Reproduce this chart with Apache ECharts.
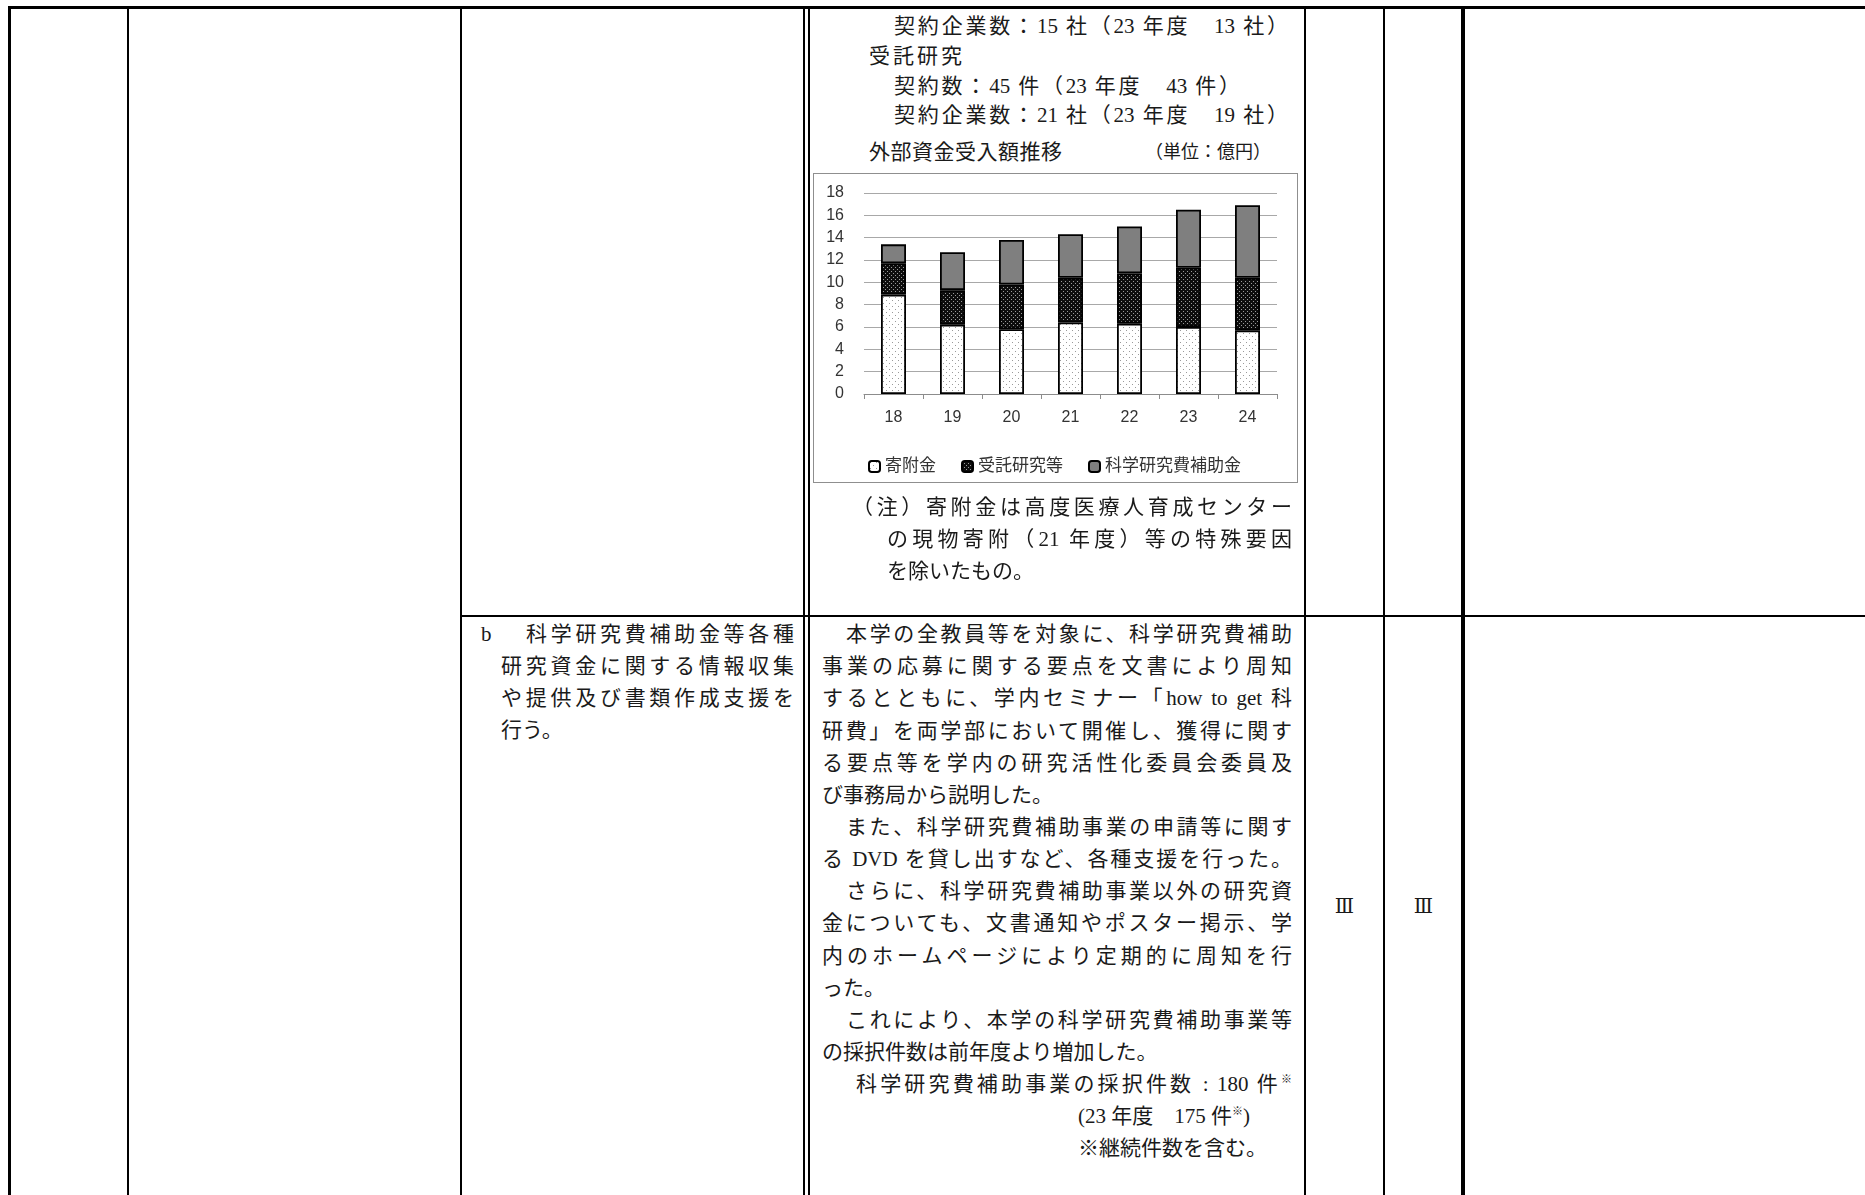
<!DOCTYPE html>
<html><head><meta charset="utf-8">
<script src="https://cdn.jsdelivr.net/npm/echarts@6/dist/echarts.min.js"></script>
<style>
html,body{margin:0;padding:0;background:#fff;}
body{width:1865px;height:1195px;position:relative;overflow:hidden;font-family:"Liberation Serif","Noto Sans CJK JP",serif;color:#1a1a1a;}
.ln{position:absolute;background:#000;}
.t{position:absolute;height:32px;line-height:32px;font-size:21px;white-space:normal;}
.j{text-align:justify;text-align-last:justify;}
sup{font-size:11px;vertical-align:8px;line-height:0;}
.r3{font-family:"DejaVu Serif","Noto Sans CJK JP",serif;font-size:20px;}
#chart{position:absolute;left:813px;top:173px;width:485px;height:310px;}
#chartBorder{position:absolute;left:813px;top:173px;width:483px;height:308px;border:1px solid #8f8f8f;pointer-events:none;}
</style></head>
<body>
<!-- table lines -->
<div class="ln" style="left:8px;top:6px;width:1857px;height:3px;"></div>
<div class="ln" style="left:8px;top:6px;width:3px;height:1189px;"></div>
<div class="ln" style="left:127px;top:6px;width:2px;height:1189px;"></div>
<div class="ln" style="left:460px;top:6px;width:2px;height:1189px;"></div>
<div class="ln" style="left:803px;top:6px;width:2px;height:1189px;"></div>
<div class="ln" style="left:808px;top:6px;width:2px;height:1189px;"></div>
<div class="ln" style="left:1304px;top:6px;width:2px;height:1189px;"></div>
<div class="ln" style="left:1383px;top:6px;width:2px;height:1189px;"></div>
<div class="ln" style="left:1461px;top:6px;width:4px;height:1189px;"></div>
<div class="ln" style="left:460px;top:615px;width:1405px;height:2px;"></div>

<!-- upper cell text -->
<div class="t j" style="left:894px;top:10px;width:394px;">契約企業数：15 社（23 年度　13 社）</div>
<div class="t" style="left:869px;top:40px;letter-spacing:3px;">受託研究</div>
<div class="t j" style="left:894px;top:70px;width:346px;">契約数：45 件（23 年度　43 件）</div>
<div class="t j" style="left:894px;top:99px;width:394px;">契約企業数：21 社（23 年度　19 社）</div>
<div class="t" style="left:869px;top:136px;letter-spacing:0.5px;">外部資金受入額推移</div>
<div class="t" style="left:1145px;top:136px;font-size:18px;">（単位：億円）</div>

<div id="chart"></div>
<div id="chartBorder"></div>

<div class="t j" style="left:852px;top:491px;width:440px;">（注）寄附金は高度医療人育成センター</div>
<div class="t j" style="left:887px;top:523px;width:405px;">の現物寄附（21 年度）等の特殊要因</div>
<div class="t" style="left:887px;top:555px;">を除いたもの。</div>

<!-- column 3 lower -->
<div class="t" style="left:481px;top:618px;">b</div>
<div class="t j" style="left:526px;top:618px;width:268px;">科学研究費補助金等各種</div>
<div class="t j" style="left:501px;top:650px;width:293px;">研究資金に関する情報収集</div>
<div class="t j" style="left:501px;top:682px;width:293px;">や提供及び書類作成支援を</div>
<div class="t" style="left:501px;top:714px;">行う。</div>

<!-- column 4 lower -->
<div class="t j" style="left:846px;top:618px;width:446px;">本学の全教員等を対象に、科学研究費補助</div>
<div class="t j" style="left:822px;top:650px;width:470px;">事業の応募に関する要点を文書により周知</div>
<div class="t j" style="left:822px;top:682px;width:470px;">するとともに、学内セミナー「how to get 科</div>
<div class="t j" style="left:822px;top:715px;width:470px;">研費」を両学部において開催し、獲得に関す</div>
<div class="t j" style="left:822px;top:747px;width:470px;">る要点等を学内の研究活性化委員会委員及</div>
<div class="t" style="left:822px;top:779px;">び事務局から説明した。</div>
<div class="t j" style="left:846px;top:811px;width:446px;">また、科学研究費補助事業の申請等に関す</div>
<div class="t j" style="left:822px;top:843px;width:470px;">る DVD を貸し出すなど、各種支援を行った。</div>
<div class="t j" style="left:846px;top:875px;width:446px;">さらに、科学研究費補助事業以外の研究資</div>
<div class="t j" style="left:822px;top:907px;width:470px;">金についても、文書通知やポスター掲示、学</div>
<div class="t j" style="left:822px;top:940px;width:470px;">内のホームページにより定期的に周知を行</div>
<div class="t" style="left:822px;top:972px;">った。</div>
<div class="t j" style="left:846px;top:1004px;width:446px;">これにより、本学の科学研究費補助事業等</div>
<div class="t" style="left:822px;top:1036px;">の採択件数は前年度より増加した。</div>
<div class="t j" style="left:856px;top:1068px;width:436px;">科学研究費補助事業の採択件数 : 180 件<sup>※</sup></div>
<div class="t" style="left:1078px;top:1100px;">(23 年度　175 件<sup>※</sup>)</div>
<div class="t" style="left:1078px;top:1132px;">※継続件数を含む。</div>

<!-- evaluation columns -->
<div class="t r3" style="left:1305px;top:890px;width:79px;text-align:center;">Ⅲ</div>
<div class="t r3" style="left:1385px;top:890px;width:77px;text-align:center;">Ⅲ</div>

<script>
// ---- data ----
const years = ['18', '19', '20', '21', '22', '23', '24'];
const seriesNames = ['寄附金', '受託研究等', '科学研究費補助金'];
const kifukin = [8.9, 6.2, 5.8, 6.4, 6.3, 6.0, 5.7];
const jutaku = [2.8, 3.1, 4.0, 4.0, 4.5, 5.3, 4.7];
const kaken = [1.7, 3.4, 4.0, 3.9, 4.2, 5.2, 6.5];
const yMin = 0, yMax = 18, yStep = 2;

function makePattern(bg, fg, size, pts) {
  const c = document.createElement('canvas');
  c.width = size; c.height = size;
  const ctx = c.getContext('2d');
  ctx.fillStyle = bg; ctx.fillRect(0, 0, size, size);
  ctx.fillStyle = fg;
  pts.forEach(p => ctx.fillRect(p[0], p[1], 1, 1));
  return c;
}
const patWhite = { image: makePattern('#ffffff', '#9a9a9a', 6, [[1, 1], [4, 4]]), repeat: 'repeat' };
const patBlack = { image: makePattern('#0d0d0d', '#9a9a9a', 4, [[0, 0], [2, 2]]), repeat: 'repeat' };

const chartFont = '"Liberation Sans","Noto Sans CJK JP",sans-serif';
const chart = echarts.init(document.getElementById('chart'), null, { renderer: 'canvas' });
const fills = [patWhite, patBlack, '#7f7f7f'];
const values = [kifukin, jutaku, kaken];
chart.setOption({
  animation: false,
  textStyle: { fontFamily: chartFont },
  grid: { left: 51, top: 20, width: 413, height: 201 },
  legend: {
    top: 280, left: 50, itemWidth: 11, itemHeight: 11, itemGap: 25,
    textStyle: { fontSize: 17, color: '#333', fontFamily: chartFont },
    data: seriesNames
  },
  xAxis: {
    type: 'category', data: years,
    axisLine: { lineStyle: { color: '#8c8c8c', width: 1 } },
    axisTick: { show: true, length: 5, lineStyle: { color: '#8c8c8c' } },
    axisLabel: { margin: 16, fontSize: 16, color: '#333', fontFamily: chartFont }
  },
  yAxis: {
    type: 'value', min: yMin, max: yMax, interval: yStep,
    axisLine: { show: false }, axisTick: { show: false },
    splitLine: { lineStyle: { color: '#a8a8a8', width: 1 } },
    axisLabel: { margin: 20, fontSize: 16, color: '#333', fontFamily: chartFont }
  },
  series: seriesNames.map((n, i) => ({
    name: n, type: 'bar', stack: 'total', barWidth: 25,
    data: values[i],
    itemStyle: { color: fills[i], borderColor: '#000', borderWidth: 1.8 },
    emphasis: { disabled: true }
  }))
});
</script>
</body></html>
